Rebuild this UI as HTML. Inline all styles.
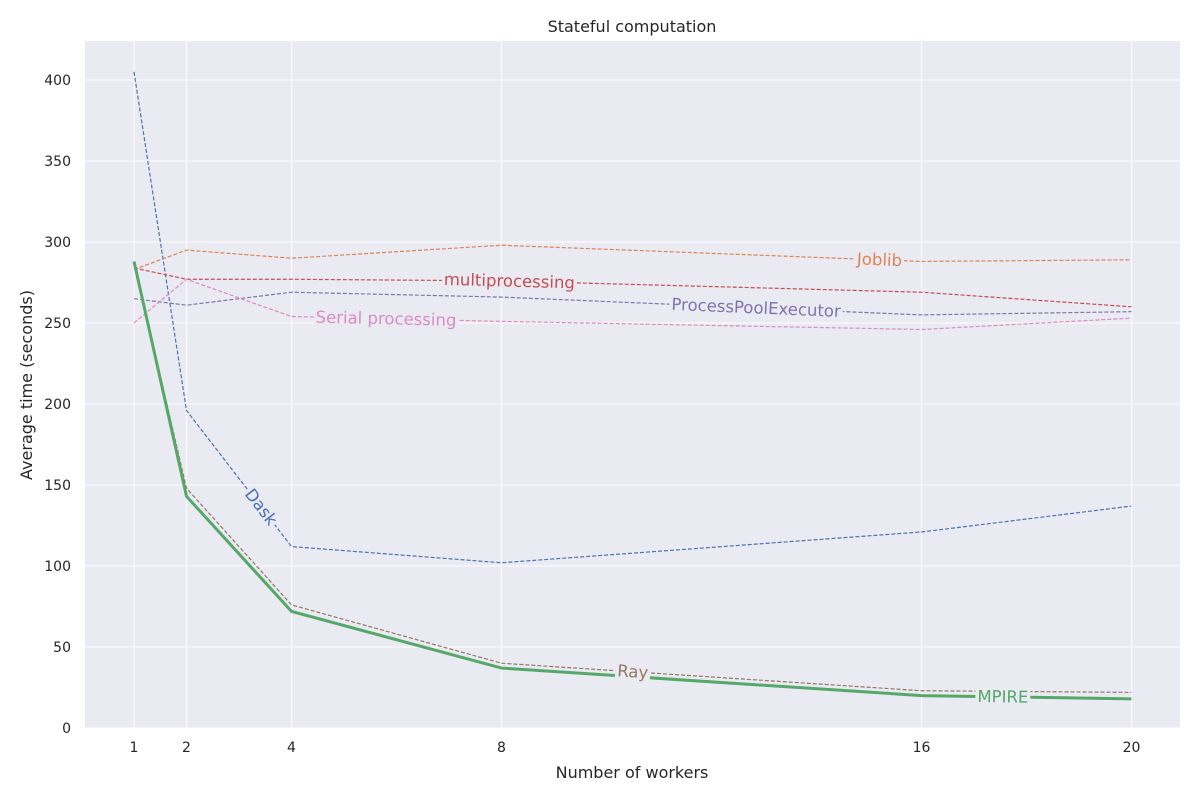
<!DOCTYPE html>
<html><head><meta charset="utf-8"><style>
body{margin:0;background:#fff;font-family:"Liberation Sans","DejaVu Sans",sans-serif}
</style></head><body>
<svg id="chart" width="1200" height="800" xmlns="http://www.w3.org/2000/svg" font-family="DejaVu Sans, Liberation Sans, sans-serif">
<rect x="85" y="41" width="1095" height="687" fill="#eaeaf2"/>
<g id="grid"></g>
<g id="lines"></g>
<g id="labels"></g>
<text x="632" y="32" text-anchor="middle" font-size="16" fill="#262626">Stateful computation</text>
<text x="632" y="778" text-anchor="middle" font-size="16" fill="#262626">Number of workers</text>
<text transform="translate(32,385) rotate(-90)" text-anchor="middle" font-size="16" fill="#262626">Average time (seconds)</text>
</svg>
<script>
const xs = [1, 2, 4, 8, 16, 20];
const yTicks = [0, 50, 100, 150, 200, 250, 300, 350, 400];
const names = ["Dask","Joblib","multiprocessing","ProcessPoolExecutor","Serial processing","Ray","MPIRE"];
const colors = ["#4c72b0","#dd8452","#c44e52","#8172b3","#da8bc3","#937860","#55a868"];
const dask = [405, 196, 112, 102, 121, 137];
const joblib = [283, 295, 290, 298, 288, 289];
const mp = [284, 277, 277, 276, 269, 260];
const ppe = [265, 261, 269, 266, 255, 257];
const serial = [250, 277, 254, 251, 246, 253];
const ray = [287, 148, 76, 40, 23, 22];
const mpire = [288, 143, 72, 37, 20, 18];
const series = [dask, joblib, mp, ppe, serial, ray, mpire];
const labelX = [3.42, 15.2, 8.15, 12.85, 5.8, 10.5, 17.55];
const NS = "http://www.w3.org/2000/svg";
const X = v => 81.5 + v * 52.5;
const Y = v => 728 - v * 1.62;
const grid = document.getElementById('grid'), lines = document.getElementById('lines'), labels = document.getElementById('labels');
function mk(tag, attrs, parent){const e=document.createElementNS(NS,tag);for(const k in attrs)e.setAttribute(k,attrs[k]);parent.appendChild(e);return e;}
xs.forEach(v=>{
  const l=mk('line',{x1:X(v),x2:X(v),y1:41,y2:728,stroke:'#fff','stroke-width':1},grid);
  
  
  const t=mk('text',{x:X(v),y:752,'text-anchor':'middle','font-size':14,fill:'#262626'},grid);
  t.textContent=v;
  
  
});
yTicks.forEach(v=>{
  const l=mk('line',{x1:85,x2:1180,y1:Y(v),y2:Y(v),stroke:'#fff','stroke-width':1},grid);
  
  
  const t=mk('text',{x:71,y:Y(v)+5,'text-anchor':'end','font-size':14,fill:'#262626'},grid);
  t.textContent=v;
  
  
});
function interp(arr,x){for(let i=0;i<xs.length-1;i++){if(x>=xs[i]&&x<=xs[i+1]){const f=(x-xs[i])/(xs[i+1]-xs[i]);return [arr[i]+f*(arr[i+1]-arr[i]),i];}}return [arr[arr.length-1],xs.length-2];}
series.forEach((arr,si)=>{
  const pts=arr.map((v,i)=>X(xs[i])+','+Y(v)).join(' ');
  const isM = si===6;
  const p=mk('polyline',{points:pts,fill:'none',stroke:colors[si],'stroke-width':isM?3:1.2,'stroke-dasharray':isM?'none':'4,2'},lines);
  
  
});
series.forEach((arr,si)=>{
  const [yv,i]=interp(arr,labelX[si]);
  const px=X(labelX[si]), py=Y(yv);
  const ang=Math.atan2(Y(arr[i+1])-Y(arr[i]),X(xs[i+1])-X(xs[i]))*180/Math.PI;
  const g=mk('g',{transform:`translate(${px},${py}) rotate(${ang})`},labels);
  
  
  const t=mk('text',{x:0,y:5.5,'text-anchor':'middle','font-size':16.5,fill:colors[si]},g);
  t.textContent=names[si];
  const w=t.getComputedTextLength();
  const r=mk('rect',{x:-w/2-2,y:-8,width:w+4,height:16,fill:'#eaeaf2'},g);
  g.insertBefore(r,t);
});
</script>
</body></html>
